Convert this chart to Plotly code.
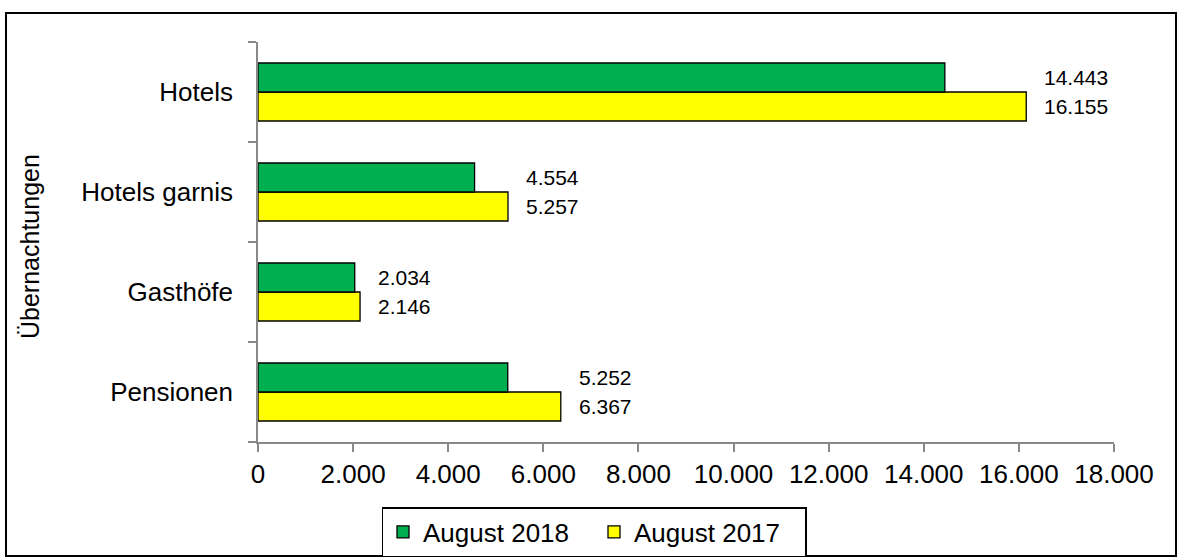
import plotly.graph_objects as go

categories = ["Pensionen", "Gasthöfe", "Hotels garnis", "Hotels"]
aug_2018 = [5252, 2034, 4554, 14443]
aug_2017 = [6367, 2146, 5257, 16155]
series_names = ["August 2018", "August 2017"]
x_ticks = list(range(0, 18001, 2000))

FONT = "Arial, 'Liberation Sans', sans-serif"

W, H = 1181, 560
ML, MR, MT, MB = 258, 67, 42, 118
PW, PH = W - ML - MR, H - MT - MB


def px_x(p):
    return (p - ML) / PW


def px_y(p):
    return (H - MB - p) / PH


def fmt(v):
    return f"{v:,}".replace(",", ".")


fig = go.Figure()
fig.add_trace(go.Bar(
    y=categories, x=aug_2017, orientation="h", name=series_names[1],
    marker=dict(color="#FFFF00", line=dict(color="#000000", width=1.3)),
    legendrank=2, hoverinfo="x+name",
))
fig.add_trace(go.Bar(
    y=categories, x=aug_2018, orientation="h", name=series_names[0],
    marker=dict(color="#00B050", line=dict(color="#000000", width=1.3)),
    legendrank=1, hoverinfo="x+name",
))

annotations = []
for i, cat in enumerate(categories):
    anchor_x = max(aug_2017[i], aug_2018[i])
    for val, dy in ((aug_2018[i], 0.145), (aug_2017[i], -0.145)):
        annotations.append(dict(
            x=anchor_x, y=i + dy, xref="x", yref="y",
            text=fmt(val), showarrow=False, xanchor="left", yanchor="middle",
            xshift=16, font=dict(family=FONT, size=21, color="#000000"),
        ))

annotations.append(dict(
    x=px_x(30), y=px_y(247), xref="paper", yref="paper",
    text="Übernachtungen", showarrow=False, textangle=-90,
    xanchor="center", yanchor="middle",
    font=dict(family=FONT, size=25, color="#000000"),
))

fig.update_layout(
    width=W, height=H,
    margin=dict(l=ML, r=MR, t=MT, b=MB, autoexpand=False),
    paper_bgcolor="#FFFFFF", plot_bgcolor="#FFFFFF",
    barmode="group", bargap=0.42, bargroupgap=0,
    separators=",.",
    font=dict(family=FONT, size=26, color="#000000"),
    showlegend=True,
    legend=dict(
        orientation="h", x=px_x(594), y=px_y(507), xanchor="center", yanchor="top",
        bordercolor="#000000", borderwidth=1.5, bgcolor="#FFFFFF",
        font=dict(family=FONT, size=26, color="#000000"),
        itemwidth=30, tracegroupgap=0, entrywidth=166,
    ),
    xaxis=dict(
        range=[0, 18000], tickvals=x_ticks, tickformat=",d",
        showgrid=False, zeroline=False,
        showline=True, linecolor="#898989", linewidth=1.5,
        ticks="outside", ticklen=8, tickcolor="#898989", tickwidth=1.5,
        tickfont=dict(family=FONT, size=26, color="#000000"),
        fixedrange=True,
    ),
    yaxis=dict(
        type="category", categoryorder="array", categoryarray=categories,
        showgrid=False, zeroline=False,
        showline=True, linecolor="#898989", linewidth=1.5,
        ticks="outside", tickson="boundaries", ticklen=8,
        tickcolor="#898989", tickwidth=1.5,
        ticklabelstandoff=18,
        tickfont=dict(family=FONT, size=26, color="#000000"),
        fixedrange=True,
    ),
    annotations=annotations,
    shapes=[dict(
        type="rect", xref="paper", yref="paper",
        x0=px_x(6), x1=px_x(1176), y0=px_y(556), y1=px_y(13),
        line=dict(color="#000000", width=2), fillcolor="rgba(0,0,0,0)",
        layer="below",
    )],
)

fig.write_html(
    "out.html",
    config={"displayModeBar": False},
    post_script="document.body.style.margin='0px';document.body.style.overflow='hidden';",
)
